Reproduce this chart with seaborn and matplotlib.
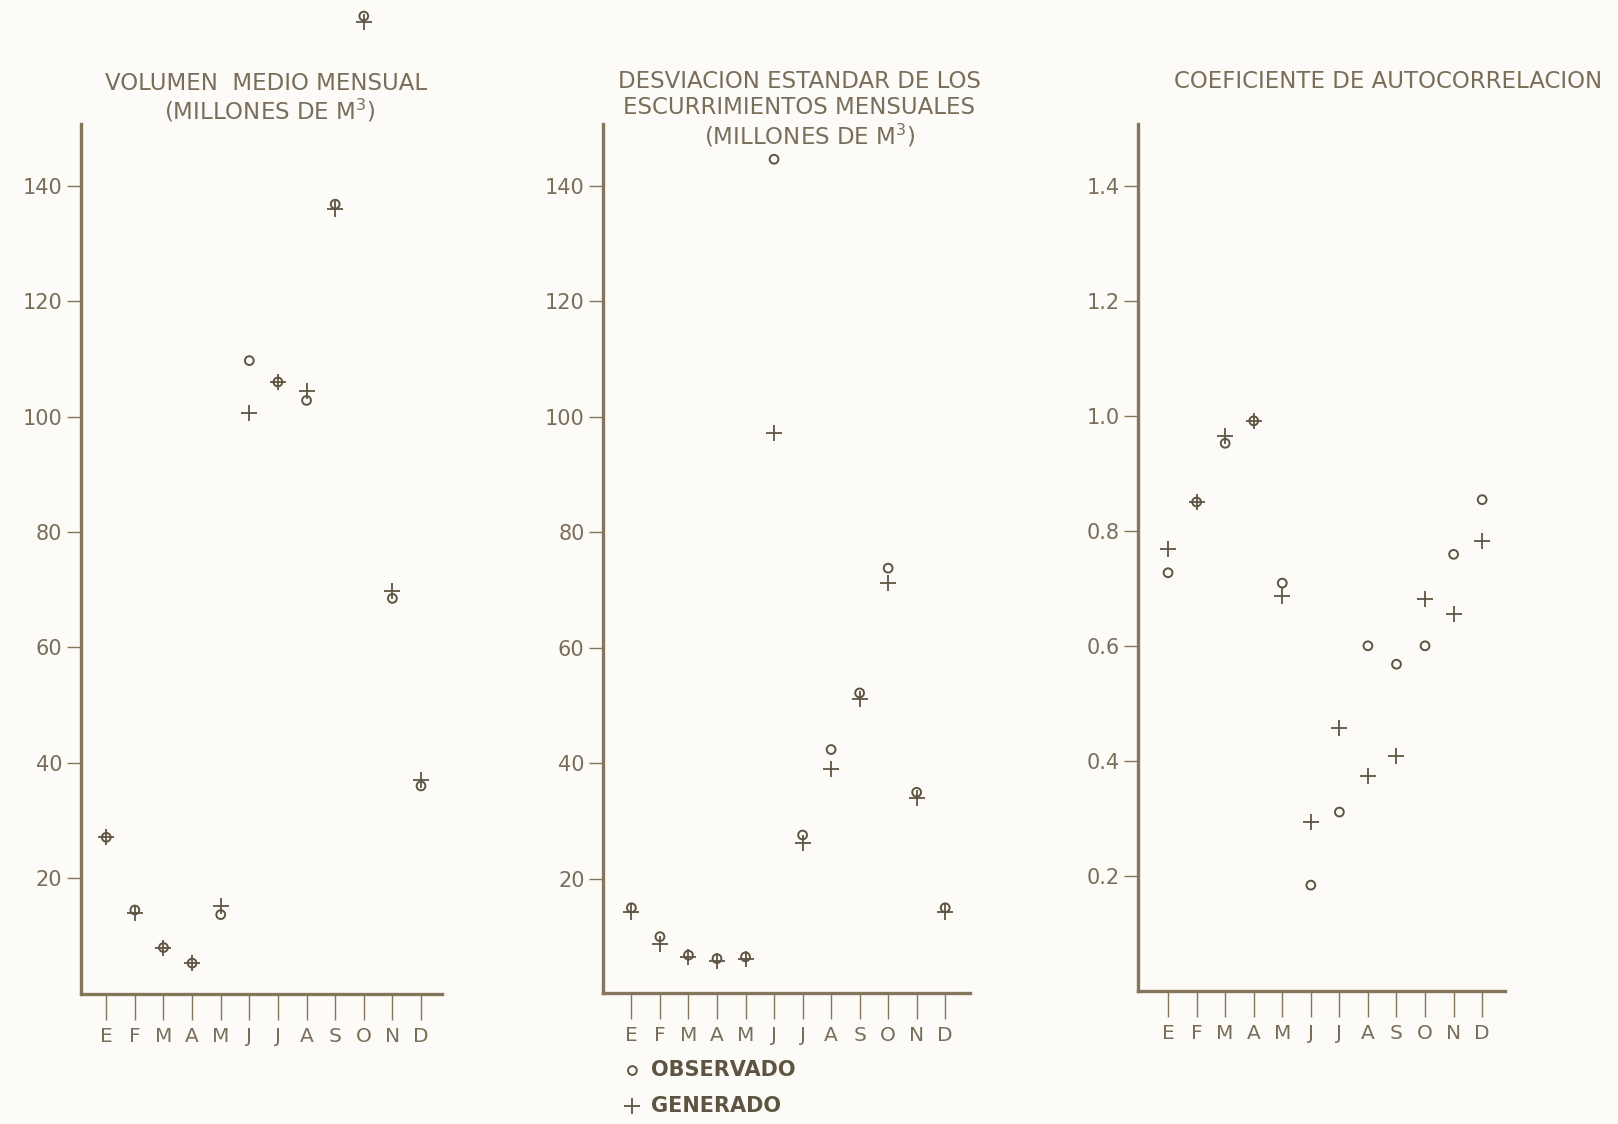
import matplotlib
matplotlib.use("Agg")
import pandas as pd
import matplotlib.pyplot as plt
import seaborn as sns

# Meses (enero a diciembre)
MONTHS = ["E", "F", "M", "A", "M", "J", "J", "A", "S", "O", "N", "D"]

# Volumen medio mensual (millones de m3)
vol_obs = [27.1, 14.5, 8.0, 5.3, 13.7, 109.7, 106.0, 102.8, 136.8, 169.4, 68.5, 36.0]
vol_gen = [27.1, 14.0, 8.0, 5.3, 15.2, 100.6, 106.0, 104.5, 136.0, 168.3, 69.8, 37.0]

# Desviacion estandar de los escurrimientos mensuales (millones de m3)
std_obs = [15.0, 10.0, 6.8, 6.2, 6.5, 144.6, 27.6, 42.4, 52.2, 73.8, 35.0, 15.0]
std_gen = [14.2, 8.8, 6.4, 5.8, 6.2, 97.2, 26.2, 39.1, 51.2, 71.2, 34.0, 14.2]

# Coeficiente de autocorrelacion
ac_obs = [0.727, 0.850, 0.952, 0.991, 0.709, 0.184, 0.311, 0.600, 0.568, 0.600, 0.759, 0.854]
ac_gen = [0.769, 0.850, 0.964, 0.991, 0.687, 0.293, 0.458, 0.373, 0.409, 0.681, 0.655, 0.782]

VOL_TICKS = [20, 40, 60, 80, 100, 120, 140]
AC_TICKS = [0.2, 0.4, 0.6, 0.8, 1.0, 1.2, 1.4]

BG = "#fcfbf8"
INK = "#5e5442"
TEXT = "#7a6e5a"
AXIS = "#85765b"

sns.set_style("ticks")
plt.rcParams["font.family"] = ["DejaVu Sans"]

fig = plt.figure(figsize=(16.18, 11.24), dpi=100, facecolor=BG)

W, H = 1618, 1124


def add_axes(left, right, bottom, top):
    return fig.add_axes([left / W, 1 - bottom / H, (right - left) / W, (bottom - top) / H])


def draw_panel(ax, obs, gen, xlim, ylim, yticks, yticklabels):
    df = pd.DataFrame({"mes": range(12), "OBSERVADO": obs, "GENERADO": gen})
    sns.scatterplot(data=df, x="mes", y="OBSERVADO", ax=ax, marker="o", s=40,
                    facecolors="none", edgecolor=INK, linewidth=1.4,
                    clip_on=False, label="OBSERVADO", zorder=3)
    sns.scatterplot(data=df, x="mes", y="GENERADO", ax=ax, marker="+", s=120,
                    color=INK, linewidth=1.3, clip_on=False, label="GENERADO", zorder=3)
    if ax.get_legend() is not None:
        ax.get_legend().remove()

    ax.set_facecolor(BG)
    ax.set_xlim(*xlim)
    ax.set_ylim(*ylim)
    ax.set_xticks(range(12))
    ax.set_xticklabels(MONTHS)
    ax.set_yticks(yticks)
    ax.set_yticklabels(yticklabels)
    ax.set_xlabel("")
    ax.set_ylabel("")
    for side in ["top", "right"]:
        ax.spines[side].set_visible(False)
    for side in ["left", "bottom"]:
        ax.spines[side].set_linewidth(2.4)
        ax.spines[side].set_color(AXIS)
    ax.tick_params(axis="x", length=19, width=1.0, color=AXIS, labelcolor=TEXT,
                   labelsize=14.5, pad=5)
    ax.tick_params(axis="y", length=10, width=1.0, color=AXIS, labelcolor=TEXT,
                   labelsize=15, pad=3)


ax1 = add_axes(80.5, 441.6, 993.7, 124)
draw_panel(ax1, vol_obs, vol_gen, (-0.9, 11.72), (0, 150.7),
           VOL_TICKS, [str(t) for t in VOL_TICKS])

ax2 = add_axes(602.6, 970, 992.7, 124)
draw_panel(ax2, std_obs, std_gen, (-1.01, 11.87), (0.3, 150.7),
           VOL_TICKS, [str(t) for t in VOL_TICKS])

ax3 = add_axes(1137.5, 1505, 991, 124)
draw_panel(ax3, ac_obs, ac_gen, (-1.07, 11.8), (0, 1.507),
           AC_TICKS, [f"{t:.1f}" for t in AC_TICKS])

# Titulos
def title(x, y, s):
    fig.text(x / W, 1 - y / H, s, ha="center", va="center", fontsize=16.5, color=TEXT)

title(266, 83, "VOLUMEN  MEDIO MENSUAL")
title(270, 111, "(MILLONES DE M$^{3}$)")
title(799, 81, "DESVIACION ESTANDAR DE LOS")
title(799, 108, "ESCURRIMIENTOS MENSUALES")
title(810, 136, "(MILLONES DE M$^{3}$)")
title(1388, 81, "COEFICIENTE DE AUTOCORRELACION")

# Leyenda
handles, labels = ax2.get_legend_handles_labels()
leg = fig.legend(handles, labels, loc="upper left", bbox_to_anchor=(622 / W, 1 - 1060 / H),
                 frameon=False, handlelength=1.0, handletextpad=0.4, labelspacing=0.75,
                 borderpad=0, borderaxespad=0, prop={"size": 15, "weight": "bold"})
for t in leg.get_texts():
    t.set_color(INK)

fig.savefig("out.png", dpi=100, facecolor=BG)
